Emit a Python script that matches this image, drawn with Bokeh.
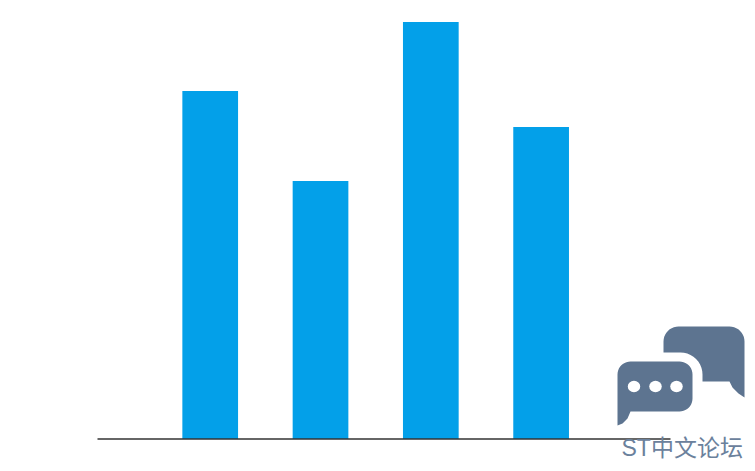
import math
from bokeh.plotting import figure
from bokeh.models import Range1d
from bokeh.core.properties import value
from bokeh.embed import file_html
from bokeh.resources import INLINE

# Chart data (the chart shows no labels)
positions = [1, 2, 3, 4]
values = [348, 258, 417, 312]
bar_colors = ["#03A0E9"] * 4
watermark = "ST中文论坛"
LOGO = "#5D7490"
LOGO_TEXT = "#6B819C"

p = figure(width=747, height=463, output_backend="svg", toolbar_location=None,
           x_range=Range1d(-0.9012, 5.871), y_range=Range1d(-24.5, 438.5),
           min_border=0, min_border_left=0, min_border_right=0,
           min_border_top=0, min_border_bottom=0)
p.axis.visible = False
p.grid.visible = False
p.outline_line_color = None
p.background_fill_color = "#FFFFFF"
p.border_fill_color = "#FFFFFF"

p.extra_x_ranges["px"] = Range1d(0, 747)
p.extra_y_ranges["px"] = Range1d(463, 0)
px = dict(x_range_name="px", y_range_name="px")

p.vbar(x=positions, top=values, bottom=0, width=0.505, fill_color=bar_colors,
       line_color=None)
p.segment(x0=[-0.0218], x1=[5.173], y0=[0], y1=[0], line_color="#333333", line_width=1.6)


def arc(cx, cy, r, a0, a1, n=10):
    return [(cx + r * math.cos(math.radians(a0 + (a1 - a0) * i / n)),
             cy + r * math.sin(math.radians(a0 + (a1 - a0) * i / n))) for i in range(n + 1)]


# back bubble
back = ([(663, 352)] + arc(678, 341, 15, 180, 270) + arc(729, 341, 15, 270, 360)
        + [(744, 397), (738, 393), (732, 387), (729, 381), (702, 381), (702, 373)]
        + arc(680, 374, 22, 0, -90))
p.patch([a for a, b in back], [b for a, b in back], fill_color=LOGO, line_color=None, **px)

# front bubble
front = (arc(630, 374, 13, 180, 270) + arc(679, 374, 13, 270, 360)
         + arc(679, 398, 13, 0, 90) + [(630, 411), (627, 418), (622, 423), (617, 425)])
p.patch([a for a, b in front], [b for a, b in front], fill_color=LOGO, line_color=None, **px)

for cx in (633.5, 655, 676):
    p.ellipse(x=[cx], y=[386], width=12.5, height=11.5, fill_color="#FFFFFF", line_color=None, **px)

p.text(x=[621], y=[447], text=[watermark], text_font=value("Liberation Sans, Noto Sans CJK SC"),
       text_font_size="23px", text_color=LOGO_TEXT, text_baseline="middle",
       text_align="left", **px)

open("out.html", "w").write(file_html(p, INLINE))
